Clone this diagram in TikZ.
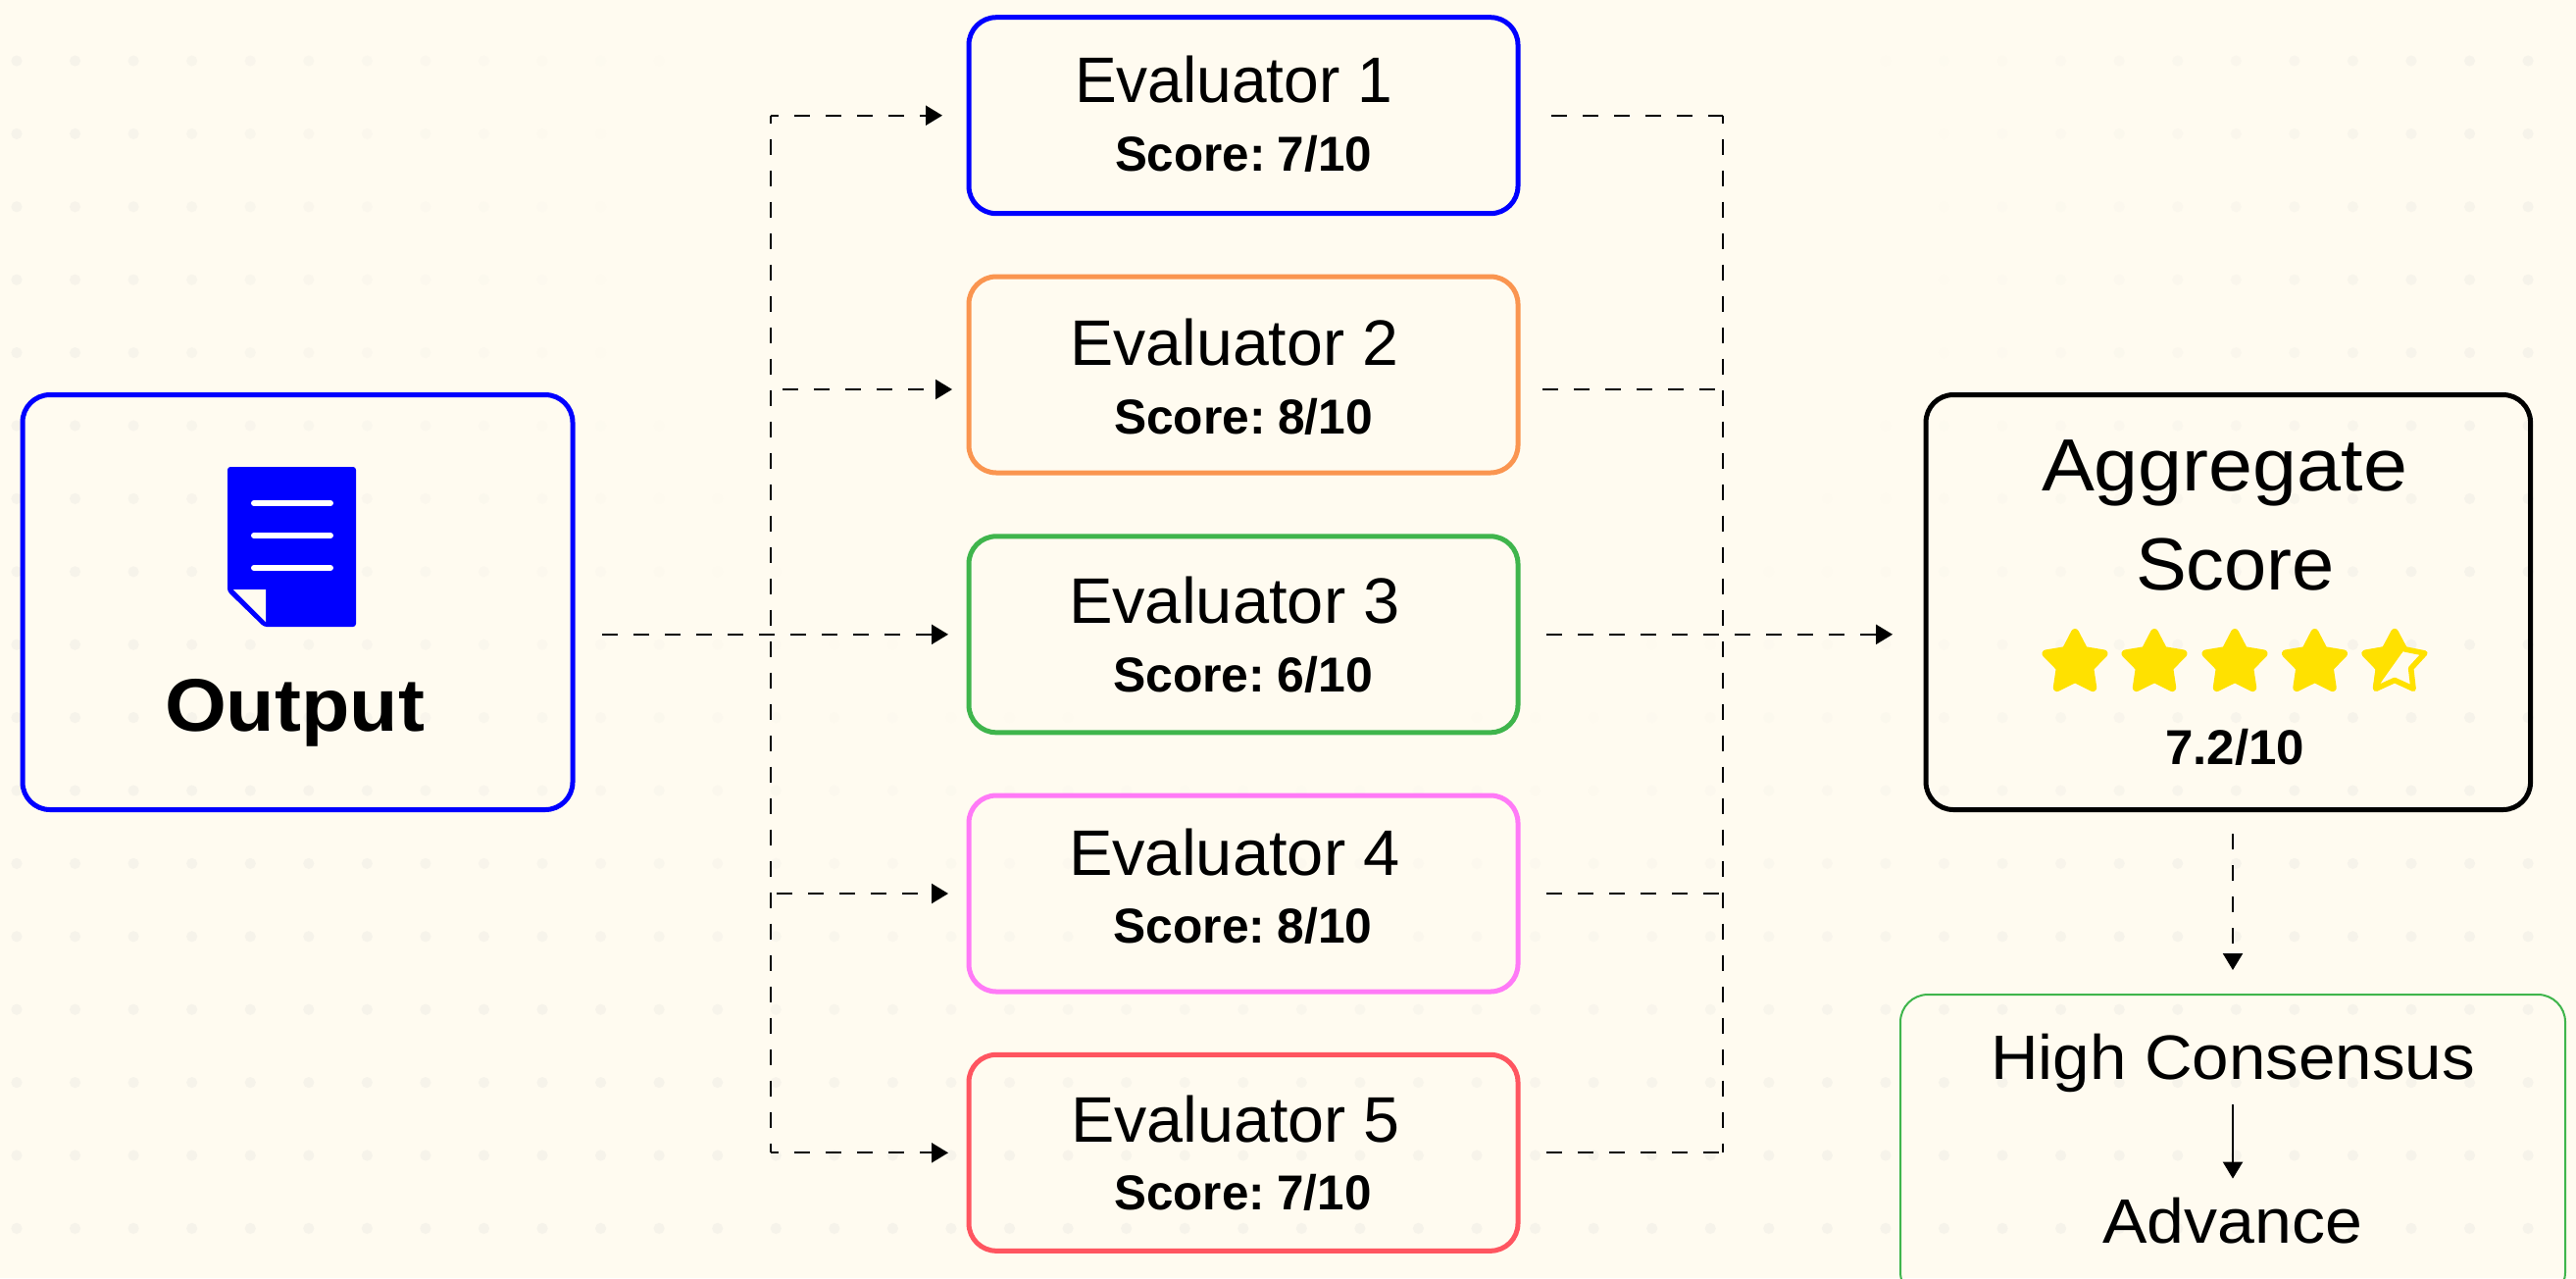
\documentclass[tikz,border=0pt]{standalone}
\usepackage{fontspec}
\usepackage{graphicx}
\setmainfont{Liberation Sans}
\usetikzlibrary{arrows.meta}
\definecolor{bgc}{HTML}{FFFBF0}
\definecolor{dotc}{HTML}{F6F3EA}
\definecolor{bluec}{HTML}{0000FF}
\definecolor{orangec}{HTML}{FA9550}
\definecolor{greenc}{HTML}{3FB54C}
\definecolor{pinkc}{HTML}{FF7AF7}
\definecolor{redc}{HTML}{FF5560}
\definecolor{starc}{HTML}{FFE100}
\newcommand{\fitw}[2]{\resizebox{#1pt}{\height}{#2}}
\newcommand{\tightsp}[1]{{\spaceskip=0.16em\relax #1}}
\newcommand{\mystar}[3]{plot[samples at={0,...,9},variable=\k]({#1+(mod(\k,2)==0?#2:#3)*sin(36*\k)},{676-(mod(\k,2)==0?#2:#3)*cos(36*\k)}) -- cycle}
\tikzset{
  box/.style={draw,rectangle,rounded corners=14pt,line width=2.5pt,inner sep=0pt,outer sep=0pt},
  evalbox/.style={box,minimum width=280pt,minimum height=100pt},
  lbl/.style={anchor=base,inner sep=0pt,outer sep=0pt,text=black},
  evt/.style={lbl,font=\fontsize{32.8}{34}\selectfont},
  sct/.style={lbl,font=\fontsize{25}{27}\selectfont\bfseries},
  dashline/.style={draw=black,line width=1.1pt,dash pattern=on 8pt off 8pt},
  dashtip/.style={dashline,-{Triangle[length=8.5pt,width=10pt]}},
  solidtip/.style={draw=black,line width=1.1pt,-{Triangle[length=8.5pt,width=10pt]}}
}
\begin{document}
\begin{tikzpicture}[x=0.5pt,y=-0.5pt]
\useasboundingbox (0,0) rectangle (2627,1303);
\fill[bgc] (0,0) rectangle (2627,1303);
\clip (0,0) rectangle (2627,1303);
% dotted backdrop
\foreach \i in {0,...,43}{
  \foreach \j in {0,...,16}{
    \pgfmathsetmacro\xx{17+59.56*\i}
    \pgfmathsetmacro\yy{62+74.4*\j}
    \pgfmathsetmacro\op{min(1,max(0,(sqrt(((\xx-1300)/1300)^2+((\yy-250)/1000)^2)-0.5)/0.5))}
    \fill[dotc,opacity=\op] (\xx,\yy) circle[radius=2.8pt];
  }
}
% boxes
\node[box,draw=bluec,minimum width=280.5pt,minimum height=211.5pt] (out) at (303.5,614) {};
\node[evalbox,draw=bluec]   (e1) at (1268,117.7) {};
\node[evalbox,draw=orangec] (e2) at (1268,382) {};
\node[evalbox,draw=greenc]  (e3) at (1268,646.8) {};
\node[evalbox,draw=pinkc]   (e4) at (1268,911) {};
\node[evalbox,draw=redc]    (e5) at (1268,1175.3) {};
\node[box,draw=black,minimum width=308.25pt,minimum height=211.5pt] (agg) at (2272.3,614) {};
\node[box,draw=greenc,line width=1pt,minimum width=339pt,minimum height=155.5pt] (cons) at (2277,1169.5) {};
% labels
\node[lbl,font=\fontsize{38}{40}\selectfont\bfseries] (outt) at (300.5,745) {\fitw{132.5}{Output}};
\node[evt] (e1t) at (1258,104) {\fitw{162}{Evaluator 1}};
\node[sct] (e1s) at (1268,174) {\fitw{131}{\tightsp{Score: 7/10}}};
\node[evt] (e2t) at (1259,372) {\fitw{167.5}{Evaluator 2}};
\node[sct] (e2s) at (1268,442) {\fitw{132}{\tightsp{Score: 8/10}}};
\node[evt] (e3t) at (1259,635.7) {\fitw{169}{Evaluator 3}};
\node[sct] (e3s) at (1267.5,705) {\fitw{132.5}{\tightsp{Score: 6/10}}};
\node[evt] (e4t) at (1259,892) {\fitw{169}{Evaluator 4}};
\node[sct] (e4s) at (1267.5,961) {\fitw{132}{\tightsp{Score: 8/10}}};
\node[evt] (e5t) at (1260,1164) {\fitw{168}{Evaluator 5}};
\node[sct] (e5s) at (1267.5,1233) {\fitw{131}{\tightsp{Score: 7/10}}};
\node[lbl,font=\fontsize{37.7}{40}\selectfont] (aggt) at (2268.5,500) {\fitw{186.5}{Aggregate}};
\node[lbl,font=\fontsize{37.7}{40}\selectfont] (aggs) at (2279.5,601) {\fitw{101.5}{Score}};
\node[sct] (aggv) at (2279,779) {\fitw{71}{7.2/10}};
\node[lbl,font=\fontsize{32}{34}\selectfont] (high) at (2277,1100) {\fitw{247}{High Consensus}};
\node[lbl,font=\fontsize{32}{34}\selectfont] (adv) at (2276.5,1267) {\fitw{132.5}{Advance}};
% document icon
\fill[bluec,rounded corners=1.5pt] (232,476) -- (363,476) -- (363,639) -- (269,639) -- (232,603) -- cycle;
\foreach \yy in {513,546,579}{
  \draw[white,line width=3pt,line cap=round] (259,\yy) -- (337,\yy);
}
\fill[bgc] (238,601) -- (271,601) -- (271,634) -- cycle;
% stars
\foreach \cx in {2116,2197,2279,2360.5}{
  \fill[starc,draw=starc,line width=4pt,line join=round] \mystar{\cx}{31}{16};
}
\draw[starc,line width=2.8pt,line join=round] \mystar{2442}{32.4}{17.5};
\begin{scope}
  \clip (2470,610) -- (2457,655) -- (2425,700) -- (2400,720) -- (2390,620) -- cycle;
  \fill[starc,draw=starc,line width=4pt,line join=round] \mystar{2442}{31}{16};
\end{scope}
% junction coordinates
\coordinate (busLt) at (786,117.7);
\coordinate (busLb) at (786,1175.3);
\coordinate (busRt) at (1757,117.7);
\coordinate (busRb) at (1757,1175.3);
\coordinate (tapL2) at (798,397);
\coordinate (tapL4) at (792,911);
\coordinate (tapR2) at (1757,397);
% buses
\draw[dashline,dash phase=4pt] (busLt) -- (busLb);
\draw[dashline,dash phase=4pt] (busRt) -- (busRb);
% input connectors
\draw[dashtip,dash phase=4pt,shorten >=13.5pt] (busLt) -- (e1.west);
\draw[dashtip,shorten >=8.5pt] (tapL2) -- (e2.west |- tapL2);
\draw[dashtip,shorten <=15pt,shorten >=10.5pt] (out.east |- e3.west) -- (e3.west);
\draw[dashtip,shorten >=10.5pt] (tapL4) -- (e4.west);
\draw[dashtip,dash phase=4pt,shorten >=10.5pt] (busLb) -- (e5.west);
% output connectors
\draw[dashline,shorten <=17pt] (e1.east) -- (busRt);
\draw[dashline,shorten <=12.5pt] (e2.east |- tapR2) -- (tapR2);
\draw[dashtip,shorten <=14.5pt,shorten >=17pt] (e3.east) -- (agg.west |- e3.east);
\draw[dashline,shorten <=14.5pt] (e4.east) -- (busRt |- e4.east);
\draw[dashline,shorten <=14.5pt] (e5.east) -- (busRb);
% aggregate to consensus
\draw[dashtip,shorten <=12.25pt,shorten >=12.5pt] (cons.north |- agg.south) -- (cons.north);
\draw[solidtip,shorten <=6.3pt,shorten >=9.5pt] (high.south) -- (high.south |- adv.north);
\end{tikzpicture}
\end{document}
